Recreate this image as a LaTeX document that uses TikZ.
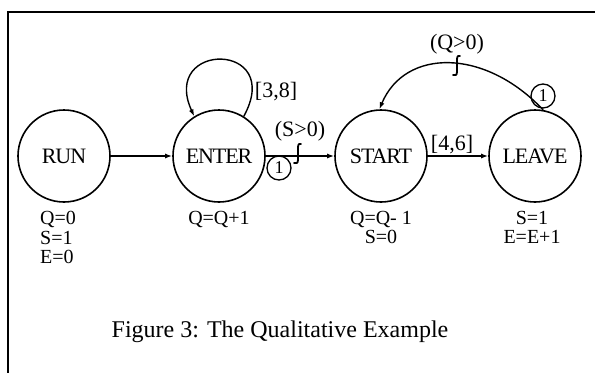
\documentclass[tikz,border=0pt]{standalone}
\usepackage{fontspec}
\setmainfont{Liberation Serif}
\usetikzlibrary{arrows.meta}
\begin{document}
\begin{tikzpicture}[x=1pt,y=-1pt,
  state/.style={circle,draw,line width=1.6pt,minimum size=92pt,inner sep=0pt,
    font=\fontsize{22}{24}\selectfont\addfontfeature{LetterSpace=-5}},
  arr/.style={line width=1.4pt,-{Latex[length=7pt,width=5pt]}},
  lbl/.style={font=\fontsize{22}{24}\selectfont,inner sep=0pt},
  eqs/.style={font=\fontsize{20}{19.5}\selectfont,inner sep=0pt,align=left,anchor=north west},
  eqc/.style={font=\fontsize{20}{19.5}\selectfont,inner sep=0pt,align=center,anchor=north},
  prio/.style={circle,draw,line width=1.3pt,minimum size=24pt,inner sep=0pt,
    font=\fontsize{18}{18}\selectfont},
  delay/.style={line width=1.8pt,line cap=round}]
\useasboundingbox (0,0) rectangle (595,373);

% frame
\draw[line width=1.6pt] (595,12) -- (8,12) -- (8,373);

% states
\node[state] (RUN)   at (64,156)  {RUN};
\node[state] (ENTER) at (219,156) {ENTER};
\node[state] (START) at (381,156) {START};
\node[state] (LEAVE) at (535,156) {LEAVE};

% transitions
\draw[arr] (RUN) -- (ENTER);
\draw[arr] (ENTER.58) .. controls (285,41) and (160,41) .. (ENTER.122);
\draw[arr] (ENTER) -- (START);
\draw[arr] (START) -- (LEAVE);
\draw[arr] (LEAVE.80) .. controls (485,48) and (405,48) .. (START.92);

% delay marks
\coordinate (d1) at (298,154);
\coordinate (d2) at (457,66);
\foreach \d in {d1,d2}{
  \draw[delay] ([shift={(3,-10)}]\d) .. controls ([shift={(0,-11)}]\d) and ([shift={(0,-8)}]\d) .. ([shift={(0,-5)}]\d)
     -- ([shift={(0,6)}]\d) .. controls ([shift={(0,9)}]\d) and ([shift={(-2,10)}]\d) .. ([shift={(-4,9)}]\d);
}

% priority marks
\node[prio] (p1) at (279,168) {1};
\node[prio] (p2) at (543,96) {1};

% transition labels
\node[lbl] (l38) at (276,92)  {[3,8]};
\node[lbl] (lS)  at (300,131) {(S>0)};
\node[lbl] (l46) at (452,145) {[4,6]};
\node[lbl] (lQ)  at (457,44)  {(Q>0)};

% state actions
\node[eqs] (aRUN)   at (40,211)  {Q=0\\S=1\\E=0};
\node[eqc] (aENTER) at (219,211) {Q=Q+1};
\node[eqc] (aSTART) at (381,211) {Q=Q- 1\\S=0};
\node[eqc] (aLEAVE) at (532,211) {S=1\\E=E+1};

% caption
\node[font=\fontsize{24}{26}\selectfont] (cap) at (280,332) {Figure 3: The Qualitative Example};
\end{tikzpicture}
\end{document}
